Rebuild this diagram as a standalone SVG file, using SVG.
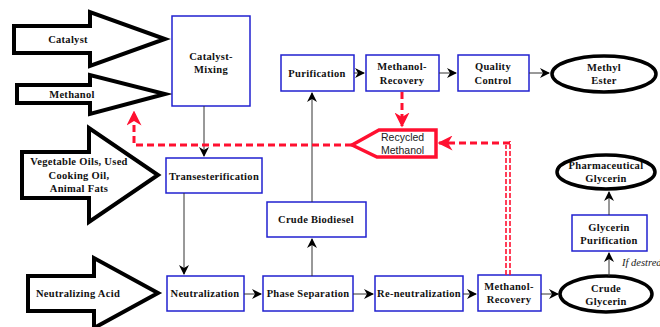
<svg xmlns="http://www.w3.org/2000/svg" width="660" height="327" viewBox="0 0 660 327">
<defs>
<style>
.box{fill:#fff;stroke:#2020d0;stroke-width:1.5}
.ell{fill:#fff;stroke:#000;stroke-width:3.5}
.big{fill:#fff;stroke:#000;stroke-width:4;stroke-linejoin:miter}
.t{font-family:'Liberation Serif','Times New Roman',serif;font-weight:bold;font-size:10.5px;letter-spacing:0.3px;fill:#111;text-anchor:middle}
.r{font-family:'Liberation Sans',Arial,sans-serif;font-size:10.5px;fill:#222}
.c{stroke:#333;stroke-width:1;fill:none}
.red{stroke:#ff1030;stroke-width:3;fill:none;stroke-dasharray:7 4}
</style>
<marker id="ah" viewBox="0 0 10 10" refX="9" refY="5" markerWidth="10" markerHeight="10" markerUnits="userSpaceOnUse" orient="auto">
<path d="M0,0 L10,5 L0,10 L3,5 Z" fill="#000"/>
</marker>
<marker id="rh" viewBox="0 0 10 10" refX="9" refY="5" markerWidth="5" markerHeight="5" orient="auto">
<path d="M0,0 L10,5 L0,10 L3,5 Z" fill="#ff1030"/>
</marker>
</defs>

<g id="in-catalyst">
<path class="big" d="M14,26 H90 V12 L165,39 L90,66 V53 H14 Z"/>
<text class="t" x="68" y="43">Catalyst</text>
</g>
<g id="in-methanol">
<path class="big" d="M17,85 H90 V75 L165,94 L90,114 V103 H17 Z"/>
<text class="t" x="72" y="98">Methanol</text>
</g>
<g id="in-oils">
<path class="big" d="M22,152 H89 V128 L158,175 L89,222 V198 H22 Z"/>
<text class="t" x="79" y="165">Vegetable Oils, Used</text>
<text class="t" x="79" y="179">Cooking Oil,</text>
<text class="t" x="79" y="192">Animal Fats</text>
</g>
<g id="in-acid">
<path class="big" d="M28,276 H94 V258 L158,293 L94,328 V311 H28 Z"/>
<text class="t" x="78" y="297">Neutralizing Acid</text>
</g>

<g id="catalyst-mixing">
<rect class="box" x="172" y="16" width="78" height="90"/>
<text class="t" x="211" y="60">Catalyst-</text>
<text class="t" x="211" y="73">Mixing</text>
</g>
<g id="transesterification">
<rect class="box" x="166" y="158" width="96" height="35"/>
<text class="t" x="214" y="180">Transesterification</text>
</g>
<g id="neutralization">
<rect class="box" x="167" y="276" width="77" height="35"/>
<text class="t" x="205" y="297">Neutralization</text>
</g>
<g id="phase-separation">
<rect class="box" x="263" y="276" width="90" height="35"/>
<text class="t" x="308" y="297">Phase Separation</text>
</g>
<g id="re-neutralization">
<rect class="box" x="375" y="276" width="88" height="35"/>
<text class="t" x="419" y="297">Re-neutralization</text>
</g>
<g id="methanol-recovery-2">
<rect class="box" x="478" y="275" width="63" height="36"/>
<text class="t" x="509" y="290">Methanol-</text>
<text class="t" x="509" y="303">Recovery</text>
</g>
<g id="crude-biodiesel">
<rect class="box" x="267" y="202" width="99" height="35"/>
<text class="t" x="316" y="223">Crude Biodiesel</text>
</g>
<g id="purification">
<rect class="box" x="281" y="55" width="73" height="36"/>
<text class="t" x="317" y="77">Purification</text>
</g>
<g id="methanol-recovery-1">
<rect class="box" x="366" y="55" width="73" height="36"/>
<text class="t" x="402" y="70">Methanol-</text>
<text class="t" x="402" y="84">Recovery</text>
</g>
<g id="quality-control">
<rect class="box" x="458" y="55" width="71" height="36"/>
<text class="t" x="493" y="70">Quality</text>
<text class="t" x="493" y="84">Control</text>
</g>
<g id="methyl-ester">
<ellipse class="ell" cx="604" cy="74" rx="52" ry="18"/>
<text class="t" x="604" y="71">Methyl</text>
<text class="t" x="604" y="84">Ester</text>
</g>
<g id="crude-glycerin">
<ellipse class="ell" cx="606" cy="294" rx="46" ry="18"/>
<text class="t" x="606" y="292">Crude</text>
<text class="t" x="606" y="305">Glycerin</text>
</g>
<g id="glycerin-purification">
<rect class="box" x="572" y="215" width="75" height="36"/>
<text class="t" x="609" y="231">Glycerin</text>
<text class="t" x="609" y="244">Purification</text>
</g>
<g id="pharmaceutical-glycerin">
<ellipse class="ell" cx="606" cy="172" rx="49" ry="17"/>
<text class="t" x="606" y="169">Pharmaceutical</text>
<text class="t" x="606" y="182">Glycerin</text>
</g>
<g id="recycled-methanol">
<path d="M352,145 L379,130 H436 V157 H377 Z" fill="#fff" stroke="#ff1030" stroke-width="3.5" stroke-linejoin="miter"/>
<text class="r" x="381" y="141">Recycled</text>
<text class="r" x="381" y="154">Methanol</text>
</g>
<text x="622" y="266" font-family="'Liberation Serif','Times New Roman',serif" font-style="italic" font-size="10.5px" fill="#222">If destred</text>

<g id="connectors">
<path class="c" d="M204,106 V156" marker-end="url(#ah)"/>
<path class="c" d="M184,193 V274" marker-end="url(#ah)"/>
<path class="c" d="M244,294 H261" marker-end="url(#ah)"/>
<path class="c" d="M353,294 H373" marker-end="url(#ah)"/>
<path class="c" d="M463,294 H476" marker-end="url(#ah)"/>
<path class="c" d="M541,294 H558" marker-end="url(#ah)"/>
<path class="c" d="M312,276 V239" marker-end="url(#ah)"/>
<path class="c" d="M312,202 V93" marker-end="url(#ah)"/>
<path class="c" d="M354,73 H364" marker-end="url(#ah)"/>
<path class="c" d="M439,73 H456" marker-end="url(#ah)"/>
<path class="c" d="M529,73 H549" marker-end="url(#ah)"/>
<path class="c" d="M609,276 V253" marker-end="url(#ah)"/>
<path class="c" d="M609,215 V192" marker-end="url(#ah)"/>
<path class="red" d="M402,92 V126" marker-end="url(#rh)"/>
<path class="red" d="M352,145 H134 V112" marker-end="url(#rh)"/>
<path d="M506,275 V145 M510,275 V141" stroke="#ff1030" stroke-width="1.6" fill="none" stroke-dasharray="5 2"/>
<path class="red" d="M510,143 H439" marker-end="url(#rh)"/>
</g>
</svg>
